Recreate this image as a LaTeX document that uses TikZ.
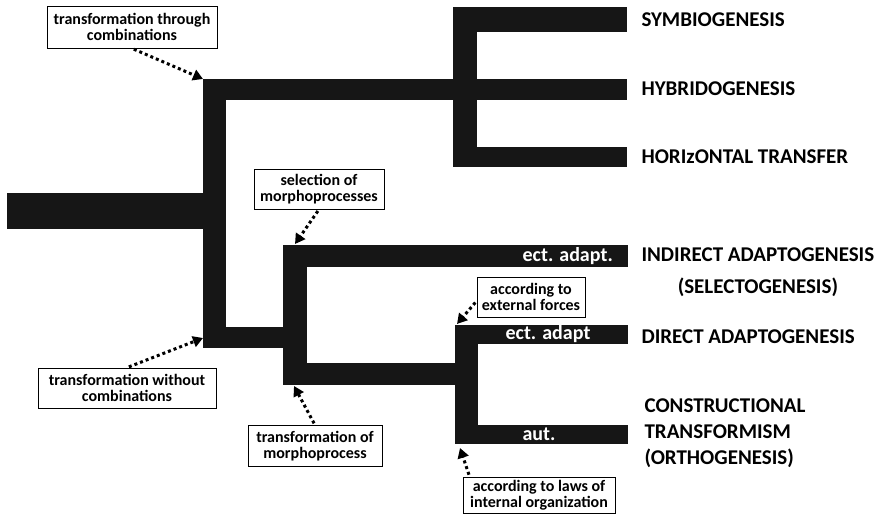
\documentclass[tikz,border=0pt]{standalone}
\usepackage{fontspec}
\setmainfont{Carlito}
\usetikzlibrary{arrows.meta,positioning,calc}
\definecolor{barblack}{HTML}{161616}

\begin{document}
\begin{tikzpicture}[x=1pt,y=-1pt,
        bar/.style={fill=barblack, draw=none},
        notebox/.style={draw, line width=0.8pt, align=center, inner sep=2pt,
            font=\bfseries\fontsize{16}{16}\selectfont},
        pointer/.style={dash pattern=on 3pt off 3pt, line width=3pt, shorten <=2pt,
            -{Triangle[length=10pt,width=11pt]}},
        modename/.style={anchor=west, font=\bfseries\fontsize{21}{26}\selectfont},
        barlabel/.style={text=white, font=\bfseries\fontsize{20}{20}\selectfont, inner sep=0pt}]
        \useasboundingbox (0,0) rectangle (882,516);

        % Trunk and first fork
        \fill[bar] (7,193) rectangle (205,229);
        \fill[bar] (203,79) rectangle (226,348);
        \fill[bar] (203,79) rectangle (627,100);

        % Combinational branch
        \fill[bar] (453,7) rectangle (477,167);
        \fill[bar] (453,7) rectangle (627,32);
        \fill[bar] (453,147) rectangle (627,167);

        % Non-combinational branch
        \fill[bar] (203,327) rectangle (307,348);
        \fill[bar] (283,245) rectangle (307,385);
        \fill[bar] (283,245) rectangle (628,267);
        \fill[bar] (283,363) rectangle (478,385);
        \fill[bar] (455,325) rectangle (478,444);
        \fill[bar] (455,325) rectangle (628,344);
        \fill[bar] (455,425) rectangle (628,444);

        % Labels inside the bars
        \node[barlabel, anchor=east] (ectA) at (613,256) {ect. adapt.};
        \node[barlabel] (ectB) at (548,334) {ect. adapt};
        \node[barlabel] (autL) at (539,434) {aut.};

        % Modes of evolution
        \node[modename] (symb) at (638,20) {SYMBIOGENESIS};
        \node[modename] (hybr) at (638,89) {HYBRIDOGENESIS};
        \node[modename] (hori) at (638,157) {HORIzONTAL TRANSFER};
        \node[modename, align=center, font=\bfseries\fontsize{21}{32}\selectfont] (indi) at (638,272)
            {INDIRECT ADAPTOGENESIS\\(SELECTOGENESIS)};
        \node[modename] (dire) at (638,337) {DIRECT ADAPTOGENESIS};
        \node[modename, align=left] (cons) at (641,433)
            {CONSTRUCTIONAL\\TRANSFORMISM\\(ORTHOGENESIS)};

        % Arrow targets
        \coordinate (tipComb) at (203,79);
        \coordinate (tipSel) at (295,244);
        \coordinate (tipNoComb) at (203,338);
        \coordinate (tipMorph) at (294,386);
        \coordinate (tipExt) at (457,324);
        \coordinate (tipInt) at (460,448);

        % Annotation boxes
        \node[notebox, minimum width=170pt, minimum height=42pt] (comb) at (132,27)
            {transformation through\\combinations};
        \node[notebox, minimum width=130pt, minimum height=40pt] (sel) at (319,189)
            {selection of\\morphoprocesses};
        \node[notebox, minimum width=178pt, minimum height=40pt] (nocomb) at (127,388)
            {transformation without\\combinations};
        \node[notebox, minimum width=134pt, minimum height=41pt] (morph) at (315,446)
            {transformation of\\morphoprocess};
        \node[notebox, minimum width=108pt, minimum height=40pt] (ext) at (531,297)
            {according to\\external forces};
        \node[notebox, minimum width=152pt, minimum height=36pt] (int) at (539,495)
            {according to laws of\\internal organization};

        % Pointers
        \draw[pointer] (comb.south) -- (tipComb);
        \draw[pointer] (sel.south) -- (tipSel);
        \draw[pointer] (nocomb.north) -- (tipNoComb);
        \draw[pointer] (morph.north) -- (tipMorph);
        \draw[pointer] ([yshift=-4pt]ext.west) -- (tipExt);
        \draw[pointer] ([xshift=7pt]int.north west) -- (tipInt);
    \end{tikzpicture}
\end{document}
